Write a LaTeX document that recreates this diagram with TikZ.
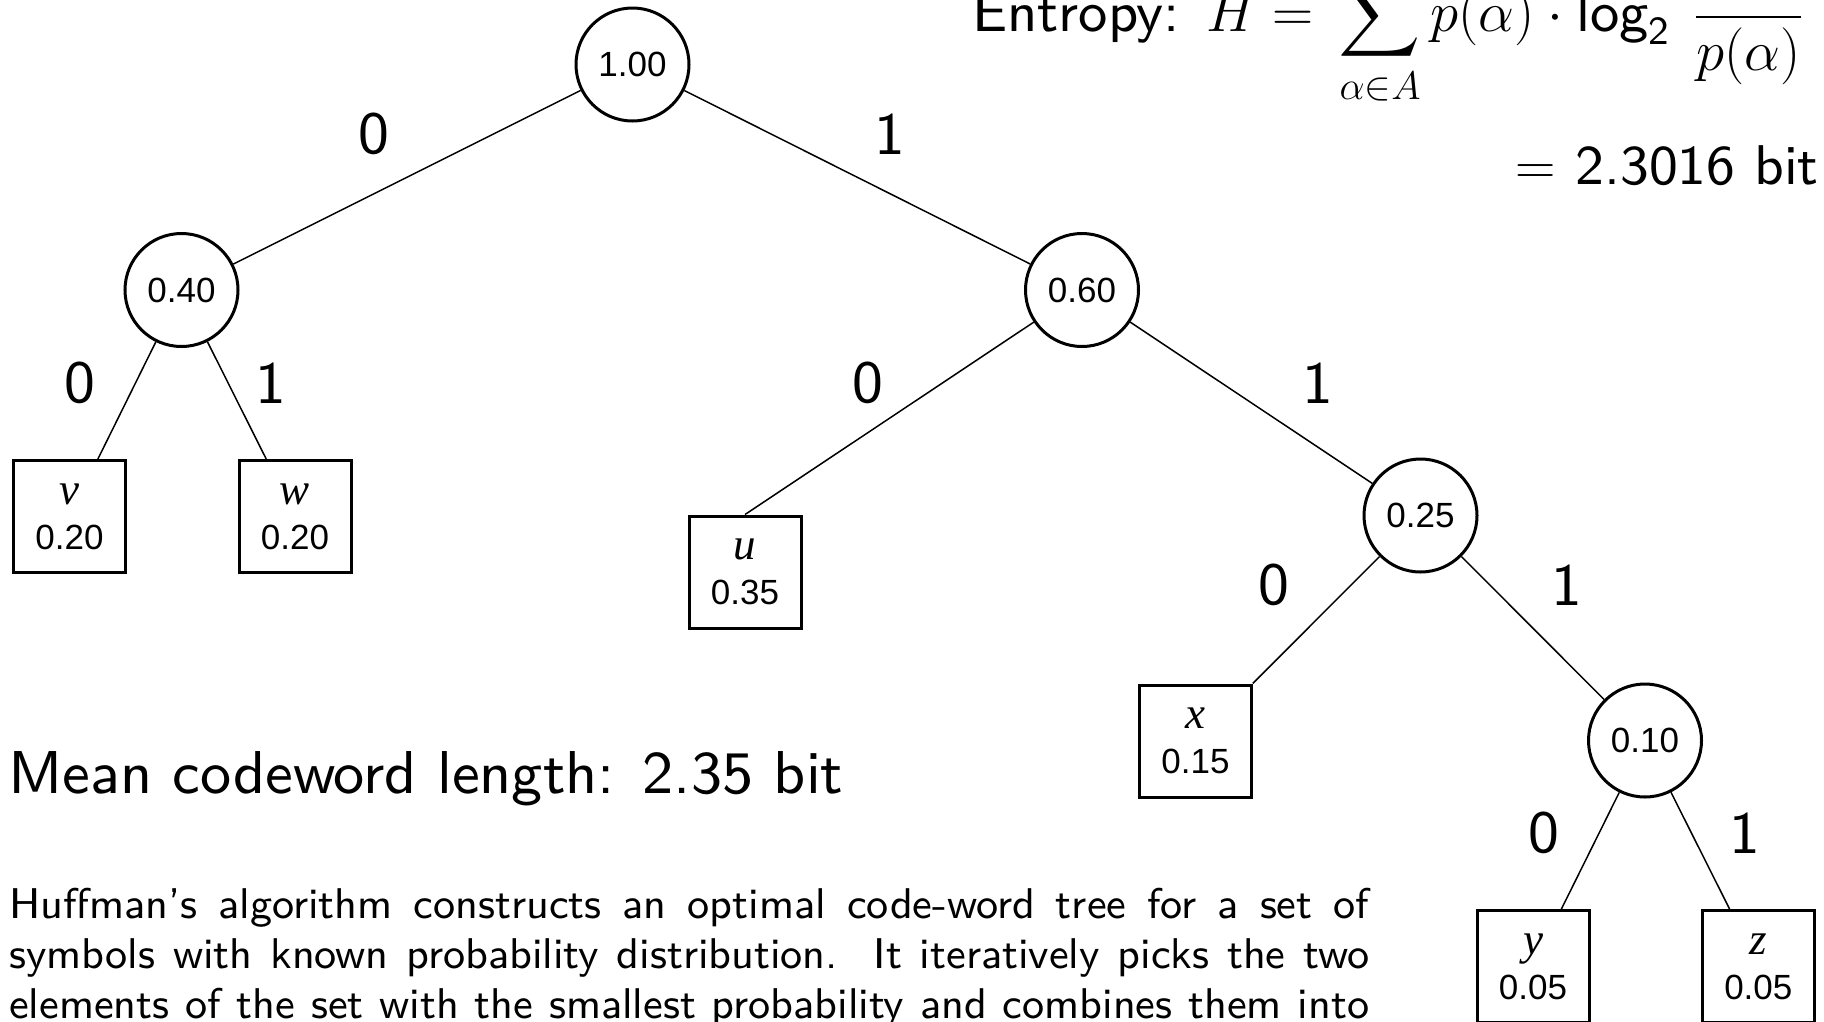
\RequirePackage{fix-cm}
\documentclass[tikz,border=0pt]{standalone}
\usepackage{fontspec}
\setsansfont{lmsans9-regular.otf}
\newfontfamily\arialf{Liberation Sans}
\newfontfamily\timesf{Liberation Serif}
\DeclareFontShape{OMX}{cmex}{m}{n}{<-> cmex10}{}
\begin{document}
\begin{tikzpicture}[x=1pt,y=-1pt,
  inner/.style={circle,draw,line width=3pt,minimum size=113pt,inner sep=0pt,
    font=\arialf\fontsize{35}{40}\selectfont},
  leaf/.style={rectangle,draw,line width=3pt,minimum size=112pt,inner sep=0pt,align=center,
    font=\arialf\fontsize{35}{45}\selectfont},
  edge/.style={line width=1.5pt},
  bitlabel/.style={font=\sffamily\fontsize{60}{72}\selectfont,inner sep=0pt},
  bigtext/.style={font=\sffamily\fontsize{60.5}{72}\selectfont,inner sep=0pt},
  formula/.style={font=\sffamily\fontsize{57}{68}\selectfont,inner sep=0pt},
  para/.style={font=\sffamily\fontsize{43}{50}\selectfont,inner sep=0pt}]
\useasboundingbox (0,0) rectangle (1824,1021);
\clip (0,0) rectangle (1824,1021);
\newcommand{\sym}[1]{{\timesf\itshape\fontsize{45}{45}\selectfont #1}}
% inner nodes
\node[inner] (n100) at (632.5,64.5) {1.00};
\node[inner] (n40) at (181.5,290) {0.40};
\node[inner] (n60) at (1082,290) {0.60};
\node[inner] (n25) at (1420.5,515.5) {0.25};
\node[inner] (n10) at (1645,740.5) {0.10};
% leaves
\node[leaf] (v) at (69.5,516.5) {\sym{v}\\0.20};
\node[leaf] (w) at (295,516.5) {\sym{w}\\0.20};
\node[leaf] (u) at (745,572) {\sym{u}\\0.35};
\node[leaf] (x) at (1195.5,741) {\sym{x}\\0.15};
\node[leaf] (y) at (1533,966.5) {\sym{y}\\0.05};
\node[leaf] (z) at (1758.3,966.5) {\sym{z}\\0.05};
% edges
\draw[edge] (n100) -- (n40);
\draw[edge] (n100) -- (n60);
\draw[edge] (n40) -- (v);
\draw[edge] (n40) -- (w);
\draw[edge] (n60) -- (u.north);
\draw[edge] (n60) -- (n25);
\draw[edge] (n25) -- (x);
\draw[edge] (n25) -- (n10);
\draw[edge] (n10) -- (y);
\draw[edge] (n10) -- (z);
% edge labels
\node[bitlabel] (b1) at (374,134) {0};
\node[bitlabel] (b2) at (890,134) {1};
\node[bitlabel] (b3) at (80,383) {0};
\node[bitlabel] (b4) at (271,383) {1};
\node[bitlabel] (b5) at (868,383) {0};
\node[bitlabel] (b6) at (1318,383) {1};
\node[bitlabel] (b7) at (1274,585) {0};
\node[bitlabel] (b8) at (1567,585) {1};
\node[bitlabel] (b9) at (1544,833) {0};
\node[bitlabel] (b10) at (1745,833) {1};
% texts
\node[formula,anchor=base west] (ent) at (972,31)
  {Entropy: $\displaystyle H = \mkern3mu\sum_{\alpha\in A} p(\alpha)\cdot\mathop{\mathsf{log}}\nolimits_{\mathsf{2}}\;\frac{1}{p(\alpha)}$};
\node[formula,anchor=base east,font=\sffamily\fontsize{56}{67}\selectfont] (res) at (1819,184) {$=$ 2.3016 bit};
\node[bigtext,anchor=base west] (mean) at (8,793) {Mean codeword length: 2.35 bit};
\node[para,anchor=base west] (p1) at (9,918)
  {\makebox[1360pt][s]{Huffman's algorithm constructs an optimal code-word tree for a set of}};
\node[para,anchor=base west] (p2) at (9,968)
  {\makebox[1360pt][s]{symbols with known probability distribution.\ \ It iteratively picks the two}};
\node[para,anchor=base west] (p3) at (9,1018)
  {\makebox[1360pt][s]{elements of the set with the smallest probability and combines them into}};
\end{tikzpicture}
\end{document}
